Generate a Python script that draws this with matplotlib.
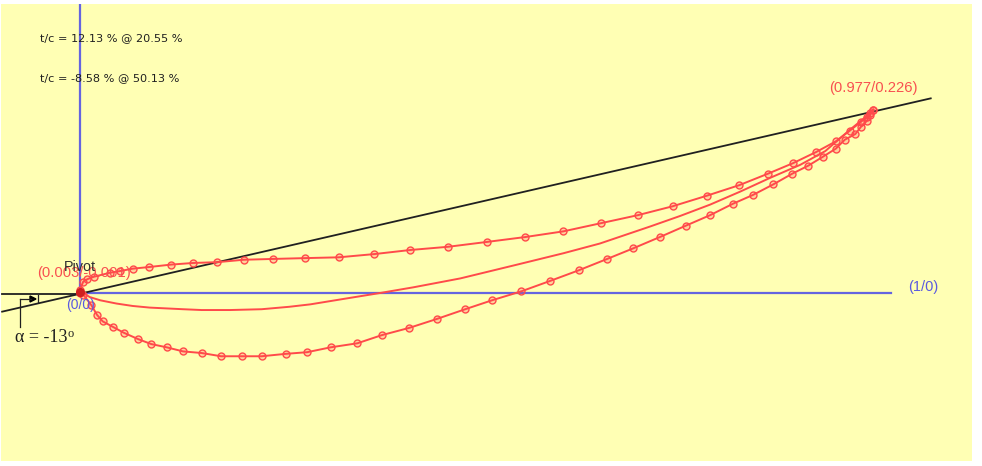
import matplotlib
matplotlib.use("Agg")
import matplotlib.pyplot as plt
from matplotlib.patches import Polygon

upper_x = [0.000,0.004,0.009,0.017,0.037,0.049,0.065,0.085,0.112,0.139,0.169,0.202,0.238,0.277,0.319,0.363,0.407,0.454,0.502,0.549,0.596,0.642,0.688,0.731,0.773,0.813,0.848,0.879,0.908,0.932,0.949,0.963,0.970,0.974,0.978]
upper_y = [0.004,0.014,0.017,0.020,0.025,0.027,0.030,0.032,0.035,0.037,0.038,0.041,0.042,0.043,0.044,0.048,0.053,0.057,0.063,0.069,0.076,0.086,0.096,0.107,0.120,0.133,0.147,0.160,0.174,0.187,0.200,0.211,0.217,0.222,0.226]
lower_x = [0.000,0.004,0.014,0.021,0.028,0.041,0.054,0.072,0.088,0.107,0.127,0.150,0.174,0.200,0.224,0.254,0.280,0.309,0.342,0.372,0.406,0.440,0.475,0.508,0.544,0.580,0.615,0.650,0.682,0.715,0.747,0.777,0.805,0.830,0.855,0.878,0.898,0.916,0.932,0.943,0.956,0.963,0.970,0.974,0.978]
lower_y = [0.000,-0.002,-0.015,-0.027,-0.035,-0.042,-0.049,-0.057,-0.063,-0.067,-0.072,-0.074,-0.078,-0.078,-0.078,-0.075,-0.073,-0.067,-0.062,-0.052,-0.043,-0.032,-0.020,-0.009,0.002,0.015,0.028,0.042,0.055,0.069,0.083,0.096,0.110,0.121,0.134,0.147,0.157,0.168,0.178,0.189,0.196,0.205,0.212,0.219,0.226]
camber_x = [0.000,0.004,0.012,0.025,0.045,0.065,0.086,0.127,0.150,0.185,0.224,0.258,0.284,0.333,0.370,0.411,0.469,0.539,0.596,0.641,0.703,0.740,0.777,0.814,0.851,0.888,0.919,0.949,0.965,0.978]
camber_y = [0.000,0.000,-0.005,-0.009,-0.013,-0.016,-0.018,-0.020,-0.021,-0.021,-0.020,-0.017,-0.014,-0.006,0.000,0.007,0.018,0.035,0.049,0.061,0.082,0.095,0.109,0.125,0.142,0.158,0.175,0.201,0.214,0.226]
chord_x = [-0.096,1.049]
chord_y = [-0.023,0.240]
axis_x = [0.0,1.0]
axis_y = [0.0,0.356]
ref_x = [-0.096,0.0]

RED = "#ff4a4a"
BLUE = "#6464e0"
W, H = 982, 466
fig = plt.figure(figsize=(W/100, H/100), dpi=100, facecolor="white")
L, R, T, B = 1, 972, 4, 461
ax = fig.add_axes([L/W, 1-B/H, (R-L)/W, (B-T)/H], facecolor="#ffffb4")
S = 811.0
ax.set_xlim((L-80)/S, (R-80)/S)
ax.set_ylim((293-B)/S, (293-T)/S)
ax.set_xticks([]); ax.set_yticks([])
for s in ax.spines.values():
    s.set_visible(False)

ax.plot(axis_x, [0, 0], color=BLUE, lw=1.6, zorder=2)
ax.plot([0, 0], axis_y, color=BLUE, lw=1.6, zorder=2)
ax.plot(ref_x, [-0.001, -0.001], color="#202020", lw=1.3, zorder=3)
ax.plot(chord_x, chord_y, color="#202020", lw=1.3, zorder=3)
ax.plot(camber_x, camber_y, color=RED, lw=1.4, zorder=4)
for xs, ys in ((upper_x, upper_y), (lower_x, lower_y)):
    ax.plot(xs, ys, color=RED, lw=1.4, marker="o", ms=5, mfc=(1, 0.3, 0.3, 0.25), mec=RED, mew=1.0, zorder=4)
ax.plot([0.0], [0.001], "o", color="#d02020", ms=5.5, zorder=5)

def px(x, y):
    return (x/W, 1-y/H)
tf = fig.transFigure
sans = "Liberation Sans"
def txt(x, y, s, **kw):
    kw.setdefault("family", sans)
    kw.setdefault("va", "center")
    fig.text(*px(x, y), s, zorder=6, **kw)

txt(40, 38, "t/c = 12.13 % @ 20.55 %", size=8.1, family="DejaVu Sans", color="#202020")
txt(40, 78, "t/c = -8.58 % @ 50.13 %", size=8.1, family="DejaVu Sans", color="#202020")
txt(829, 88, "(0.977/0.226)", size=10.6, color="#f85050")
txt(908, 287, "(1/0)", size=10.5, color="#5a5ae0")
txt(66, 305, "(0/0)", size=10, color="#5a5ae0")
txt(37, 273, "(0.003/-0.001)", size=10.6, color="#f85050")
txt(64, 267, "Pivot", size=10.4, color="#303030")
txt(15, 338, "α = -13", size=13, family="Liberation Serif", color="#202020")
txt(68, 334, "o", size=9, family="Liberation Serif", color="#202020")

for xs, ys in (((20, 20), (327, 299)), ((20, 31), (299, 299)), ((38, 38), (295, 302))):
    fig.add_artist(plt.Line2D([x/W for x in xs], [1-y/H for y in ys], color="#202020", lw=0.9, transform=tf))
fig.add_artist(Polygon([px(30, 296), px(36, 299), px(30, 302)], closed=True, color="black", transform=tf))

fig.savefig("out.png", dpi=100)
